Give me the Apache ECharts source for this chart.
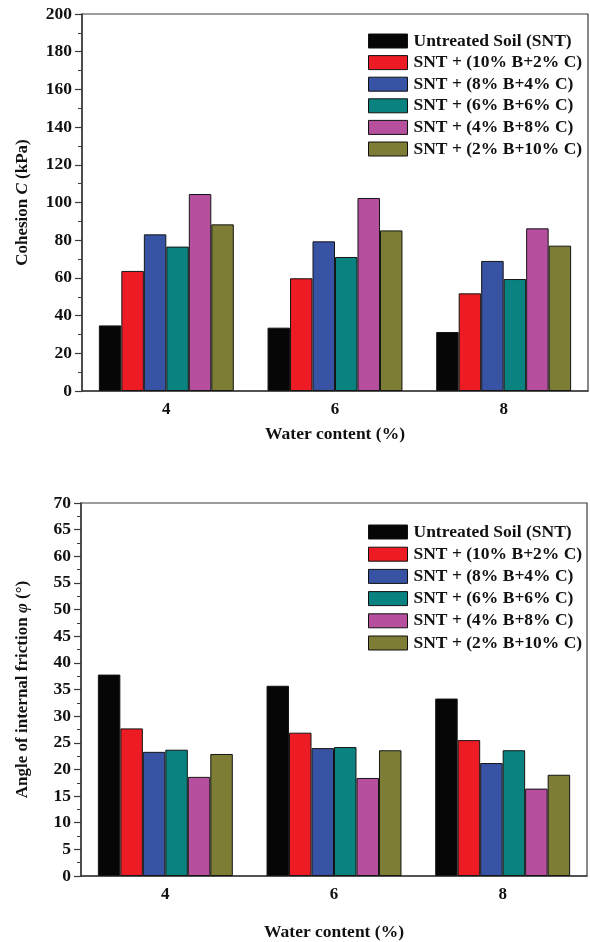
<!DOCTYPE html>
<html>
<head>
<meta charset="utf-8">
<script src="https://cdn.jsdelivr.net/npm/echarts@6/dist/echarts.min.js"></script>
<style>html,body{margin:0;padding:0;background:#fff;}#c{width:590px;height:942px;}</style>
</head>
<body>
<div id="c"></div>
<script>
const categories = ['4', '6', '8'];
const seriesNames = [
  'Untreated Soil (SNT)',
  'SNT + (10% B+2% C)',
  'SNT + (8% B+4% C)',
  'SNT + (6% B+6% C)',
  'SNT + (4% B+8% C)',
  'SNT + (2% B+10% C)'
];
const colors = ['#060606', '#ED1C24', '#3953A4', '#0A827F', '#B6509E', '#7D7D35'];
// Cohesion C (kPa)
const cohesion = [
  [34.8, 33.6, 31.3],
  [63.7, 59.8, 51.8],
  [83.1, 79.4, 69.0],
  [76.6, 71.1, 59.4],
  [104.5, 102.4, 86.3],
  [88.4, 85.2, 77.1]
];
// Angle of internal friction (deg)
const friction = [
  [37.8, 35.7, 33.3],
  [27.7, 26.9, 25.5],
  [23.3, 24.0, 21.2],
  [23.7, 24.2, 23.6],
  [18.6, 18.4, 16.4],
  [22.9, 23.6, 19.0]
];
const yTicks1 = [0, 200, 20];
const yTicks2 = [0, 70, 5];

const font = '"Liberation Serif", "Times New Roman", serif';
const axisColor = '#3a3a3a';

function yAxis(gi, min, max, interval, name, gap) {
  return {
    type: 'value', gridIndex: gi, min: min, max: max, interval: interval,
    name: name, nameLocation: 'middle', nameGap: gap, nameRotate: 90,
    nameTextStyle: {
      fontFamily: font, fontWeight: 'bold', fontSize: 17, color: '#111',
      rich: {
        a: {fontFamily: font, fontWeight: 'bold', fontSize: 17, color: '#111'},
        i: {fontFamily: font, fontWeight: 'bold', fontStyle: 'italic', fontSize: 17, color: '#111'}
      }
    },
    axisLine: {show: true, lineStyle: {color: axisColor, width: 1.5}},
    axisTick: {show: true, inside: false, length: 7, lineStyle: {color: axisColor, width: 1.2}},
    minorTick: {show: true, splitNumber: 2, length: 4, lineStyle: {color: axisColor, width: 1}},
    splitLine: {show: false},
    axisLabel: {fontFamily: font, fontWeight: 'bold', fontSize: 17.5, color: '#111', margin: 10}
  };
}
function xAxis(gi, gap) {
  return {
    type: 'category', gridIndex: gi, data: categories,
    name: 'Water content (%)', nameLocation: 'middle', nameGap: gap,
    nameTextStyle: {fontFamily: font, fontWeight: 'bold', fontSize: 17.5, color: '#111'},
    axisLine: {show: true, lineStyle: {color: axisColor, width: 1.5}},
    axisTick: {show: false},
    axisLabel: {fontFamily: font, fontWeight: 'bold', fontSize: 17, color: '#111', margin: 10}
  };
}
function legend(top, gap) {
  return {
    left: 368, top: top, orient: 'vertical', data: seriesNames, padding: 0,
    icon: 'rect',
    itemWidth: 39, itemHeight: 14, itemGap: gap, selectedMode: false,
    itemStyle: {borderColor: '#111', borderWidth: 1},
    textStyle: {fontFamily: font, fontWeight: 'bold', fontSize: 17.5, color: '#111', padding: [0, 0, 0, 1]}
  };
}
const series = [];
seriesNames.forEach((n, i) => {
  series.push({
    name: n, type: 'bar', xAxisIndex: 0, yAxisIndex: 0, data: cohesion[i],
    barGap: '0%', barCategoryGap: '20%',
    itemStyle: {color: colors[i], borderColor: '#151515', borderWidth: 1}
  });
  series.push({
    name: n, type: 'bar', xAxisIndex: 1, yAxisIndex: 1, data: friction[i],
    barGap: '0%', barCategoryGap: '20%',
    itemStyle: {color: colors[i], borderColor: '#151515', borderWidth: 1}
  });
});
const chart = echarts.init(document.getElementById('c'), null, {renderer: 'canvas'});
chart.setOption({
  backgroundColor: '#fff',
  animation: false,
  color: colors,
  grid: [
    {left: 82, top: 14, width: 506, height: 377, show: true, borderColor: axisColor, borderWidth: 1.2, backgroundColor: 'transparent'},
    {left: 81, top: 503, width: 506, height: 376, show: true, borderColor: axisColor, borderWidth: 1.2, backgroundColor: 'transparent'}
  ],
  legend: [legend(32, 3.6), legend(523, 4.2)],
  xAxis: [xAxis(0, 34), xAxis(1, 47)],
  yAxis: [
    yAxis(0, yTicks1[0], yTicks1[1], yTicks1[2], '{a|Cohesion }{i|C}{a| (kPa)}', 51),
    yAxis(1, yTicks2[0], yTicks2[1], yTicks2[2], '{a|Angle of internal friction }{i|φ}{a| (°)}', 50)
  ],
  series: series
});
</script>
</body>
</html>
